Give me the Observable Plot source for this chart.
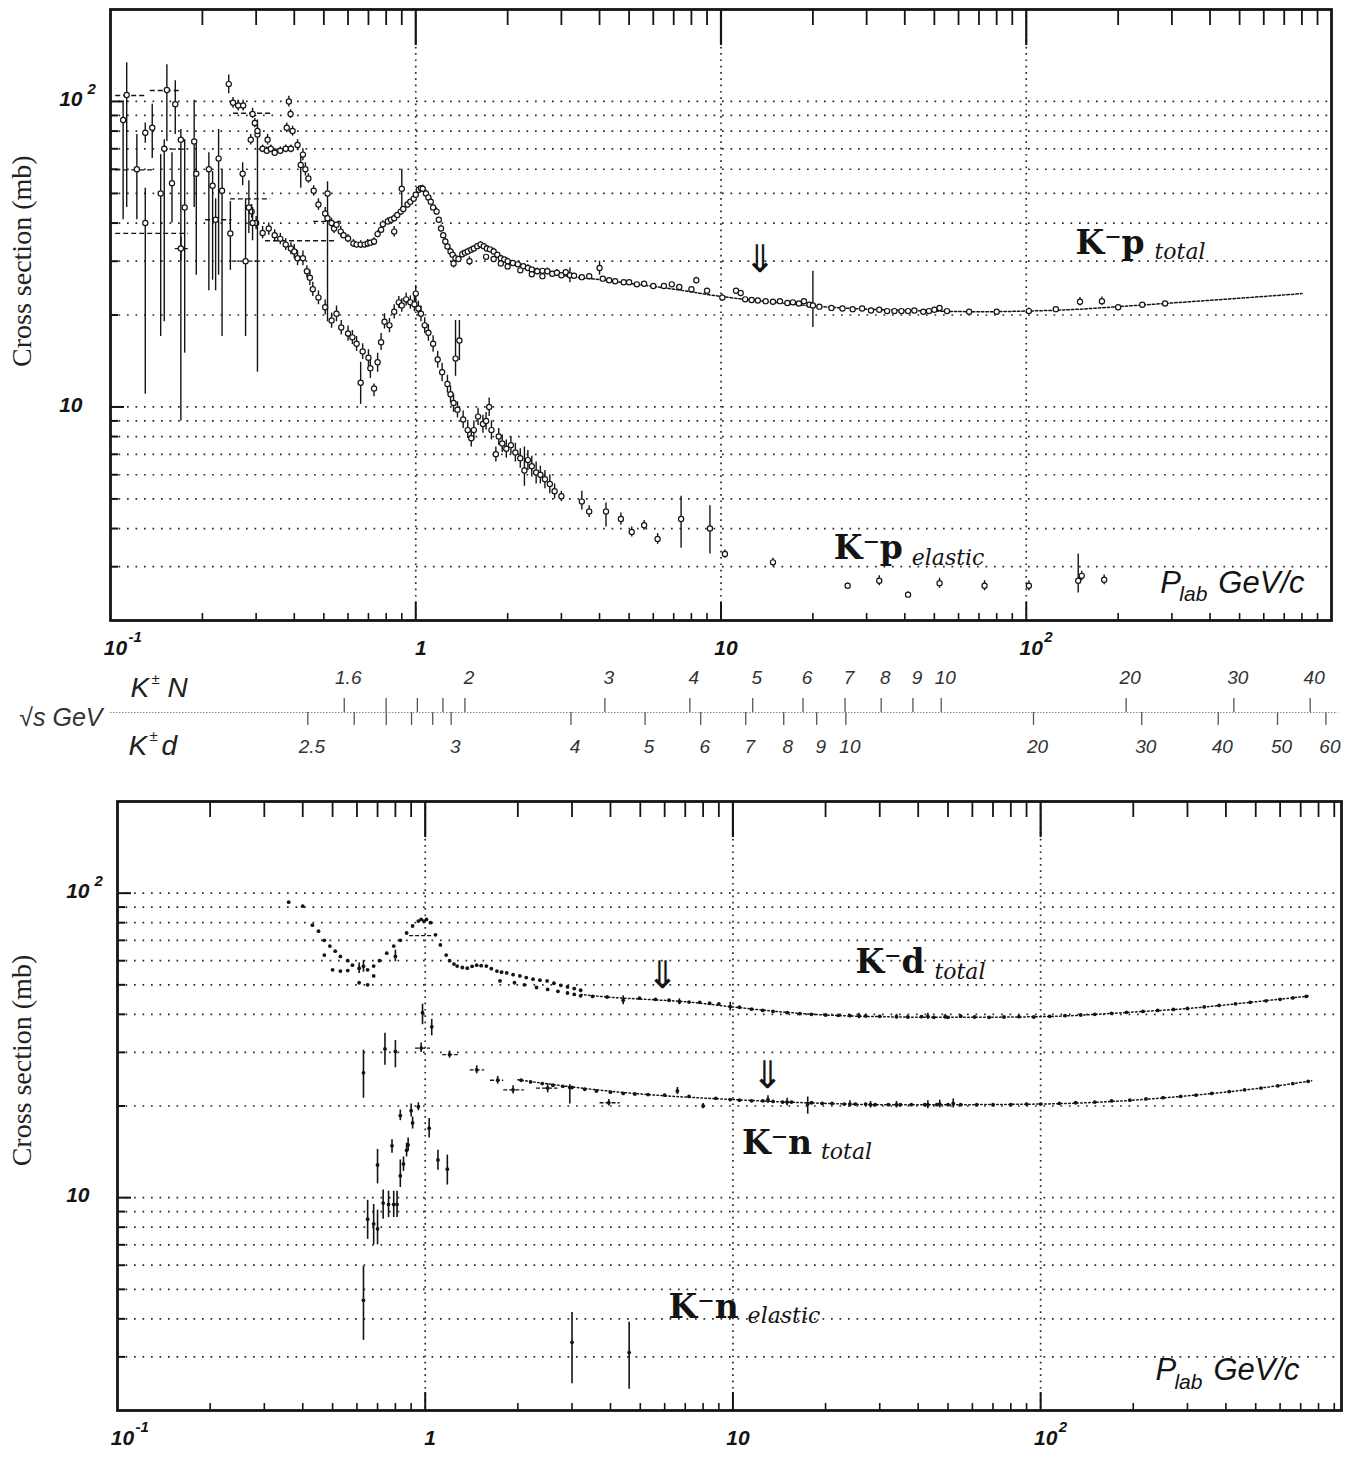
<!DOCTYPE html>
<html><head><meta charset="utf-8">
<script src="https://cdn.jsdelivr.net/npm/d3@7"></script>
<script src="https://cdn.jsdelivr.net/npm/@observablehq/plot@0.6"></script>
<style>
body{margin:0;background:#fff;}
#wrap{position:relative;width:1349px;height:1463px;overflow:hidden;background:#fff;}
#wrap > svg{position:absolute;left:0;overflow:visible;}
</style></head><body><div id="wrap"></div>
<script>
// ---------------- DATA ----------------
// K- p total: [plab GeV/c, sigma mb, lo, hi]
const kpTotal = [
[0.113,105,45,134],[0.110,87,41,99],[0.122,60,41,78],[0.130,79,73,85],[0.130,40,11,52],
[0.137,82,65,98],[0.146,50,17,67],[0.150,70,19,75],[0.153,109,74,132],[0.159,54,40,68],
[0.163,98,78,117],[0.170,75,9,81],[0.170,33,30,36],[0.175,45,15,75],[0.188,74,45,101],
[0.191,58,27,74],[0.210,60,24,68],[0.216,53,26,59],[0.221,41,24,48],[0.226,65,27,81],
[0.232,51,17,60],[0.247,37,28,47],[0.271,58,53,63],[0.277,30,17,48],[0.284,45,37,55],
[0.292,40,35,45],[0.303,78,13,87],
[0.244,114,106,122],[0.252,99,95,103],[0.262,97,93,101],[0.272,97,93,101],[0.292,91,88,95],
[0.297,85,82,88],[0.303,80,77,83],[0.288,75,72,78],[0.327,75,72,78],[0.315,70,68,72],
[0.325,69,67,71],[0.335,70,68,72],[0.345,68,66,70],[0.36,69,67,71],[0.375,70,68,72],
[0.39,70,68,72],[0.384,100,96,104],[0.389,91,88,94],[0.378,82,79,85],[0.395,80,77,83],
[0.41,72,69,75],[0.427,67,64,70],[0.435,60,57,63],[0.445,56,54,58],[0.463,51,49,53],
[0.48,46,44,48],[0.505,43,41,45],[0.514,41.5,40,43],[0.53,40,38.5,41.5],[0.54,38.4,37,40],
[0.55,39.5],[0.568,37.5,36,39],[0.58,36.5],[0.60,35.6,34.5,36.7],[0.625,34.3,33.3,35.3],
[0.64,34],[0.66,34,33,35],[0.68,34],[0.696,34.3,33.3,35.3],[0.71,34.5],[0.73,34.8,33.8,35.8],
[0.75,36.8,35.8,37.8],[0.77,38],[0.78,39.6,38.5,40.7],[0.81,40.5,39.4,41.6],[0.83,41],
[0.85,41.5,40.4,42.6],[0.87,42.5],[0.893,43.6,42.4,44.8],[0.91,44.5],[0.94,46,44.8,47.2],
[0.96,47],[0.984,48,46.8,49.2],[1.0,49.5],[1.023,51.4,50,52.8],[1.04,52],[1.054,51.8,50.4,53.2],
[1.08,50,48.7,51.3],[1.10,48.5],[1.12,47,45.8,48.2],[1.14,45],[1.17,43.6,42.4,44.8],[1.19,41],
[1.21,38.4,37.4,39.4],[1.23,36.5],[1.25,34.8,33.9,35.7],[1.27,33.5],[1.30,32.3,31.5,33.1],
[1.32,31.5],[1.35,30.7,29.9,31.5],[1.38,30.5],[1.42,31.6,30.8,32.4],[1.45,32],
[1.48,32.3,31.5,33.1],[1.52,32.7],[1.55,33,32.2,33.8],[1.59,33.6],[1.63,34,33.2,34.8],
[1.67,33.6],[1.71,33,32.2,33.8],[1.75,32.8],[1.80,32.3,31.5,33.1],[1.85,31.5],
[1.90,30.7,30,31.4],[1.95,30.4],[2.0,30,29.3,30.7],[2.08,29.6],[2.16,29.3,28.6,30],
[2.25,28.9],[2.33,28.5,27.8,29.2],[2.4,28.2],[2.5,27.8,27.1,28.5],[2.6,27.9],[2.7,27.8,27.1,28.5],
[1.7,31],[1.8,30.5],[1.9,29.5],[2.0,28.8],[2.2,28],[2.4,27.2],[2.6,26.8],
[0.90,51.8,44.6,60],[0.85,37.5,36,39],[1.5,30,29,31],[1.33,29.5,28.5,30.5],[0.514,50,19,54.6],
[0.42,62,52,66],[2.8,27.3],[2.9,27.5,26.8,28.2],[3.0,27.0],[3.1,27.6],[3.2,27,25.5,28.5],
[3.3,26.9],[3.5,26.6],[3.7,26.8],[4.0,28.5,27,30],[4.1,26.3],[4.3,26.0],[4.5,25.8],[4.8,25.6],
[5.0,25.6],[5.3,25.2],[5.6,25.3],[6.0,24.9],[6.5,24.9],[6.9,25.2],[7.3,24.7],[8.0,24.3],
[8.3,26.0,25.4,26.6],[9.0,24.0],[10.1,22.8,22.2,23.4],[11.2,24.0],[11.6,23.6],[12.0,22.5],
[12.6,22.4],[13.2,22.3],[14.0,22.2],[14.8,22.1],[15.6,22.2],[16.5,21.9],[17.2,22.0],[18.0,21.8],
[18.7,22.2],[19.5,21.6],[20.0,21.5,18.2,27.8],[21,21.3],[23,21.1],[25,21.0],[27,20.9],[29,21.0],
[31,20.7],[33,20.8],[35,20.6],[37,20.6],[39,20.6],[41,20.6],[43,20.7],[46,20.5],[48,20.6],
[50,20.8],[52,21.1],[55,20.6],[65,20.5],[80,20.5],[102,20.6,20.1,21.1],[125,20.9],
[150,22.1,21.4,22.8],[177,22.2,21.5,22.9],[200,21.2],[240,21.6],[285,21.8]
];
// dashed momentum-bin bars: [sigma, plab from, plab to]
const kpBins = [
[104.6,0.104,0.132],[108.6,0.135,0.172],[59.7,0.104,0.140],[69.8,0.149,0.176],[91.5,0.253,0.335],
[48,0.247,0.335],[69.8,0.306,0.395],[35,0.322,0.545],[41,0.205,0.25],[37,0.104,0.18],
[33,0.163,0.18],[30,0.25,0.31],[40.5,0.463,0.57]
];
const kpTotalFit = [[2.0,29.4],[2.5,28.2],[3,27.0],[4,26.1],[5,25.4],[7,24.3],[10,23.0],[15,22.0],
[20,21.4],[30,20.9],[50,20.6],[70,20.5],[100,20.6],[150,20.9],[200,21.3],[300,21.9],[500,22.7],[800,23.5]];
// K- p elastic
const kpElastic = [
[0.29,43.6,41.5,46],[0.30,40,38,42],[0.315,37.1,35.5,39],[0.33,38.4,36.5,40],[0.345,36.5,35,38],
[0.36,35.5,34,37],[0.375,34,32.5,35.5],[0.39,33,31.5,34.5],[0.40,32.3,30.5,34],[0.41,30.7,29,32.5],
[0.427,30.7,29,32.4],[0.44,27.8,26.5,29],[0.45,26.5,25,28],[0.46,24.3,23,25.6],[0.48,22.8,21.6,24],
[0.505,21.2,20,22.4],[0.53,19.2,18.1,20.3],[0.55,20.2,19,21.4],[0.57,18.2,17.2,19.2],
[0.60,17.4,16.4,18.4],[0.62,16.9,16,17.8],[0.64,16.1,15.2,17],[0.67,15.2,14.3,16.1],
[0.70,14.5,13.6,15.4],[0.66,12,10.2,14],[0.71,13.4,12.4,14.4],[0.73,11.5,10.8,11.9],
[0.75,14,13,15],[0.77,16.3,15.3,17.4],[0.79,19,18,20.2],[0.82,18.5,17.5,19.5],[0.85,20.5,19.4,21.6],
[0.88,22,21,23],[0.9,21.5,20.4,22.6],[0.93,22.5,21.4,23.6],[0.96,22,20.9,23.1],[0.99,21.7,20.5,23],
[1.0,23.5,22,25],[1.02,21,19.8,22.2],[1.04,20.2,19,21.4],[1.07,18.5,17.4,19.6],[1.10,17.5,16.4,18.6],
[1.14,16.1,15.1,17.1],[1.18,14.3,13.4,15.2],[1.22,13,12.1,13.9],[1.27,11.9,11.1,12.7],
[1.30,11,10.3,11.7],[1.33,10.3,9.6,11],[1.37,9.8,9.2,10.4],[1.35,14.4,12.6,19.2],[1.39,16.5,14.2,19.2],
[1.43,9.1,8.5,9.7],[1.48,8.4,7.9,8.9],[1.52,7.9,7.4,8.4],[1.55,8.4,7.8,9],[1.6,9.3,8.7,9.9],
[1.66,8.8,8.2,9.4],[1.7,9.0,8.4,9.6],[1.74,10.0,9.3,10.7],[1.77,8.4,7.8,9],[1.83,7.0,6.6,7.4],
[1.87,8.0,7.5,8.5],[1.92,7.6,7.1,8.1],[1.98,7.3,6.8,7.8],[2.05,7.5,7,8],[2.12,7.1,6.6,7.6],
[2.2,6.8,6.3,7.3],[2.27,6.2,5.5,7.4],[2.33,6.7,6.2,7.2],[2.4,6.4,5.9,6.9],[2.48,6.1,5.6,6.6],
[2.56,6.0,5.6,6.4],[2.65,5.8,5.4,6.2],[2.75,5.6,5.2,6.0],[2.85,5.3,5.0,5.6],[3.0,5.1,4.9,5.3],
[3.5,4.9,4.6,5.3],[3.7,4.55,4.35,4.75],[4.2,4.55,4.05,4.85],[4.7,4.3,4.1,4.5],[5.1,3.9,3.75,4.05],
[5.6,4.1,3.95,4.25],[6.2,3.7,3.55,3.85],[7.4,4.3,3.45,5.1],[9.2,4.0,3.3,4.75],[10.3,3.3,3.2,3.4],
[14.8,3.1,3.0,3.2],[26,2.6,2.55,2.65],[33,2.7,2.6,2.8],[41,2.43,2.38,2.48],[52,2.65,2.55,2.75],
[73,2.6,2.5,2.7],[102,2.6,2.5,2.7],[148,2.7,2.46,3.3],[152,2.8,2.7,2.9],[180,2.72,2.62,2.82]
];
// K- d total: [plab, sigma, lo, hi]
const kdTotal = [
[0.36,93.4],[0.40,90.6],[0.43,78.5],[0.45,75],[0.47,70],[0.49,67],[0.51,64.5],[0.53,62],[0.56,60],
[0.58,58],[0.61,56.7,54.5,59],[0.63,57.5,55,60],[0.65,56],[0.68,57.6],[0.71,60],[0.75,63.5],
[0.79,67],[0.83,70],[0.87,74],[0.91,78],[0.95,81],[0.97,82],[0.99,81],[1.01,82],[1.04,80],
[1.08,73],[1.12,67.6],[1.17,62.6],[1.2,60],[1.24,58.5],[1.27,57.6],[1.32,57],[1.37,56.7],
[1.42,57.5],[1.47,58],[1.52,57.8],[1.58,57.6],[1.64,56.5],[1.71,55.5],[1.77,55],[1.84,54.7],
[1.93,54],[2.03,53.5],[2.13,52.8],[2.24,52.2],[2.36,51.8],[2.49,51.5],[2.62,50.6],[2.76,49.8],
[2.9,49.2],[3.05,48.6],[3.2,48],
[0.47,62.6],[0.50,56],[0.53,55.5],[0.56,55.7],[0.61,50.8],[0.65,50],[0.68,53.5],[0.8,62,59.5,65],
[1.75,51.5],[1.95,50.8],[2.1,50],[2.3,49],[2.5,48.3],[2.7,47.6],[2.9,47],[3.05,46.5],
[3.2,46],[3.5,45.8],[3.9,45.6],[4.4,44.5,43,46],[4.97,45.2],[5.6,44.8],[6.2,44.5],[6.7,44,43,45],
[7.2,43.9],[7.8,43.8],[8.4,43.5],[9,43.3],[9.8,42.4,41,43.8],[10.5,42.2],[11.5,41.6],[12.5,41.2],
[13.5,40.9],[15,40.5],[16.5,40.2],[18,40],[20,39.8],[22,39.7],[24,39.6],[25.7,39.5,38.7,40.3],
[27,39.5],[30,39.4],[34,39.3,38.6,40],[37,39.2],[41,39.3],[43,39.4,38.5,40.3],[45,39.1],
[49,39.3,38.6,40],[50,39.1],[55,39.4,38.9,39.9],[61,39.2],[68,39.1],[76,39.2],[85,39.3],[95,39.2],
[107,39.4],[120,39.6],[135,39.8],[150,40.0],[170,40.3],[190,40.6],[215,40.9],[240,41.2],
[270,41.5],[300,41.8],[340,42.3],[380,42.8],[430,43.3],[480,43.8],[540,44.3],[600,44.8],
[660,45.3],[730,45.8]
];
const kdBins = [[72.5,0.89,1.05]];
const kdFit = [[3.2,46.5],[4,45.5],[5,44.9],[7,44.0],[10,42.3],[15,40.6],[20,39.8],[30,39.3],
[50,39.1],[100,39.3],[200,40.7],[300,41.8],[500,44.0],[750,46.0]];
// K- n total
const knTotal = [
[0.63,25.7,21.2,30.5],[0.74,30.8,27.2,34.7],[0.8,30.2,26.7,32.8],[0.98,40.5,37,43.2],
[1.05,36.4,34,38.5],[0.97,31,30,32.2],[1.2,29.5,28.7,30.3],[1.47,26.3,25.5,27.1],
[1.72,24.3,23.6,25],[1.93,22.6,21.9,23.3],[2.5,22.9,22.1,23.7],[2.95,23,20.3,23.5],
[3.95,20.5,20,21],
[2.05,24.3],[2.2,24.0],[2.4,23.7],[2.6,23.4],[2.8,23.2],[3.0,23.0],[3.3,22.7],[3.6,22.4],
[4.0,22.2],[4.4,22.0],[4.8,21.9],[5.3,21.8],[6.0,21.7],[6.6,22.4,21.8,23],[7.2,21.5],
[8.0,20.0,19.6,20.4],[8.8,21.2],[9.8,21.0],
[10.5,20.9],[11.5,20.8],[12.5,20.8],[13,21,20.4,21.6],[13.5,20.7],[14.5,20.6],[15,20.6,20,21.2],
[15.5,20.6],[17.5,20.3,18.8,21.4],[18,20.5],[19.5,20.4],[21,20.4],[23,20.3],[24,20.3,19.8,20.8],
[25,20.3],[27,20.3],[28,20.2,19.7,20.7],[29,20.2],[32,20.2],[34,20.2,19.7,20.7],[35,20.2],
[38,20.2],[42,20.2],[43,20.2,19.6,20.8],[46,20.2],[47,20.3,19.7,20.9],[50,20.2],
[52,20.4,19.7,21.1],[55,20.2],[62,20.2],[70,20.2],[80,20.2],[90,20.3],[100,20.3],[115,20.4],
[130,20.5],[150,20.6],[170,20.8],[195,20.9],[220,21.1],[250,21.3],[285,21.5],[320,21.7],
[360,22.0],[410,22.3],[460,22.6],[520,22.9],[590,23.3],[660,23.7],[740,24.1]
];
const knBins = [[31,0.93,1.04],[29.5,1.14,1.28],[26.3,1.4,1.56],[24.3,1.63,1.8],[22.6,1.8,2.1],
[22.9,2.3,2.7],[20.5,3.7,4.3]];
const knFit = [[2,24.4],[3,23.1],[5,21.9],[7,21.4],[10,21.0],[15,20.6],[20,20.4],[30,20.2],
[50,20.2],[100,20.3],[200,20.9],[300,21.6],[500,22.8],[760,24.2]];
// K- n elastic
const knElastic = [
[0.63,4.6,3.4,5.95],[0.65,8.5,7.3,9.8],[0.68,8.2,7.0,9.5],[0.70,12.8,11.1,14.4],[0.70,7.9,7.0,9.1],
[0.73,9.6,8.5,10.6],[0.76,9.5,8.6,10.5],[0.79,9.5,8.6,10.5],[0.81,9.5,8.6,10.5],[0.78,14.8,14.0,15.5],
[0.83,11.8,10.8,13.3],[0.85,12.9,12.2,13.6],[0.87,14.3,13.6,15.1],[0.88,14.9,14.2,15.7],
[0.83,18.6,17.9,19.4],[0.90,19.3,18.4,20.3],[0.91,17.6,16.8,18.4],[0.95,19.9,19.3,20.5],
[1.03,16.9,15.7,18.2],[1.10,13.3,12.3,14.3],[1.18,12.4,11.0,13.8],[3.0,3.35,2.45,4.2],[4.6,3.1,2.35,3.9]
];
// axis tick values
const xDecades = [0.1, 1, 10, 100];
const xMajor = [1, 10, 100];
const yGrid = [3,4,5,6,7,8,9,10,20,30,40,50,60,70,80,90,100];
const yMajor = [10, 100];
const xTickLabels = [{v:0.1, base:"10", exp:"-1"}, {v:1, base:"1", exp:""}, {v:10, base:"10", exp:""}, {v:100, base:"10", exp:"2"}];
const yTickLabels = [{v:100, base:"10", exp:"2"}, {v:10, base:"10", exp:""}];
// sqrt(s) scale (GeV)
const rootsKN_ticks = [1.6,1.7,1.8,1.9,2,3,4,5,6,7,8,9,10,20,30,40];
const rootsKN_labels = [1.6,2,3,4,5,6,7,8,9,10,20,30,40];
const rootsKd_ticks = [2.5,2.6,2.7,2.8,2.9,3,4,5,6,7,8,9,10,20,30,40,50,60];
const rootsKd_labels = [2.5,3,4,5,6,7,8,9,10,20,30,40,50,60];
const mK = 0.4937, mN = 0.9389, mD = 1.8756;

// --------------- helpers ---------------
const xMinor = [];
for (const d of xDecades) for (let k = 2; k <= 9; k++) xMinor.push(+(d * k).toPrecision(3));
function plab(rs, mT) { const s = rs * rs; const E = (s - mK*mK - mT*mT) / (2*mT); return Math.sqrt(E*E - mK*mK); }
const INK = "#141414";
const SANS = "Liberation Sans, Arial, sans-serif";
const SERIF = "DejaVu Serif, serif";
const TIMES = "Liberation Serif, Times New Roman, serif";
const P = d => d[0], S = d => d[1], LO = d => d[2], HI = d => d[3];
const hasErr = arr => arr.filter(d => d.length > 2);

function frameMarks(innerW, innerH, xmax) {
  return [
    Plot.ruleY(yGrid, {stroke: "#2a2a2a", strokeWidth: 1.7, strokeDasharray: "1.7,6.8"}),
    Plot.ruleX(xMajor, {stroke: "#2a2a2a", strokeWidth: 1.7, strokeDasharray: "1.7,4.6"}),
    Plot.ruleY(yGrid.filter(v => !yMajor.includes(v)), {stroke: INK, strokeWidth: 2, insetRight: innerW - 8}),
    Plot.ruleY(yMajor, {stroke: INK, strokeWidth: 2, insetRight: innerW - 14}),
    Plot.ruleX(xMinor.filter(v => v < xmax), {stroke: INK, strokeWidth: 1.8, insetBottom: innerH - 16}),
    Plot.ruleX(xMajor, {stroke: INK, strokeWidth: 2.2, insetBottom: innerH - 36}),
    Plot.ruleX(xMinor.filter(v => v < xmax), {stroke: INK, strokeWidth: 1.6, insetTop: innerH - 7}),
    Plot.ruleX(xMajor, {stroke: INK, strokeWidth: 2, insetTop: innerH - 18}),
    Plot.frame({stroke: INK, strokeWidth: 2.8}),
    // tick labels
    Plot.text(xTickLabels, {x: "v", text: "base", frameAnchor: "bottom", dy: 34, dx: 5, fontFamily: SANS, fontWeight: "bold", fontStyle: "italic", fontSize: 21, fill: INK}),
    Plot.text(xTickLabels, {x: "v", text: "exp", frameAnchor: "bottom", dy: 21, dx: 18, textAnchor: "start", fontFamily: SANS, fontWeight: "bold", fontStyle: "italic", fontSize: 15, fill: INK}),
    Plot.text(yTickLabels, {y: "v", text: "base", frameAnchor: "left", dx: -28, dy: -2, textAnchor: "end", fontFamily: SANS, fontWeight: "bold", fontStyle: "italic", fontSize: 21, fill: INK}),
    Plot.text(yTickLabels, {y: "v", text: "exp", frameAnchor: "left", dx: -23, dy: -12, textAnchor: "start", fontFamily: SANS, fontWeight: "bold", fontStyle: "italic", fontSize: 15, fill: INK})
  ];
}
function yTitle(yv, dx) {
  return Plot.text(["Cross section (mb)"], {x: 0.1, y: yv, dx, rotate: -90, textAnchor: "middle", fontFamily: TIMES, fontSize: 28, fill: "#222"});
}
function note(x, y, main, sub, subDx) {
  return [
    Plot.text([main], {x, y, textAnchor: "start", fontFamily: SERIF, fontWeight: "bold", fontSize: 33, fill: INK}),
    Plot.text([sub], {x, y, dx: subDx, dy: 9, textAnchor: "start", fontFamily: SERIF, fontStyle: "italic", fontSize: 22, fill: INK})
  ];
}
function plabLabel(x, y) {
  return [
    Plot.text(["P"], {x, y, textAnchor: "start", fontFamily: SANS, fontStyle: "italic", fontSize: 31, fill: INK}),
    Plot.text(["lab"], {x, y, dx: 19, dy: 12, textAnchor: "start", fontFamily: SANS, fontStyle: "italic", fontSize: 21, fill: INK}),
    Plot.text(["GeV/c"], {x, y, dx: 58, textAnchor: "start", fontFamily: SANS, fontStyle: "italic", fontSize: 31, fill: INK})
  ];
}
function arrow(x, y) {
  return Plot.text(["\u21D3"], {x, y, fontFamily: "DejaVu Sans, sans-serif", fontSize: 38, fill: INK});
}
function openData(arr) {
  return [
    Plot.ruleX(hasErr(arr), {x: P, y1: LO, y2: HI, stroke: INK, strokeWidth: 1.4}),
    Plot.dot(arr, {x: P, y: S, r: 2.6, fill: "white", stroke: INK, strokeWidth: 1.2})
  ];
}
function filledData(arr) {
  return [
    Plot.ruleX(hasErr(arr), {x: P, y1: LO, y2: HI, stroke: INK, strokeWidth: 1.6}),
    Plot.dot(arr, {x: P, y: S, r: 1.9, fill: INK, stroke: "none"})
  ];
}
function bins(arr, dash) {
  return Plot.ruleY(arr, {y: d => d[0], x1: d => d[1], x2: d => d[2], stroke: INK, strokeWidth: 1.3, strokeDasharray: dash});
}
function fit(arr, dash) {
  return Plot.line(arr, {x: P, y: S, stroke: INK, strokeWidth: 1.5, strokeDasharray: dash, curve: "monotone-x"});
}

const wrap = document.getElementById("wrap");
const W = 1349;

// ---------------- TOP PANEL ----------------
const topH = 668;
const topPlot = Plot.plot({
  width: W, height: topH,
  marginLeft: 110, marginRight: 18, marginTop: 9, marginBottom: topH - 620,
  x: {type: "log", domain: [0.1, 1000], axis: null},
  y: {type: "log", domain: [2, 200], axis: null},
  style: {background: "transparent", overflow: "visible"},
  marks: [
    ...frameMarks(1221, 611, 1000),
    yTitle(30, -88),
    bins(kpBins, "5,3"),
    fit(kpTotalFit, "2.5,2"),
    ...openData(kpElastic),
    ...openData(kpTotal),
    ...note(145, 34.3, "K\u207Bp", "total", 79),
    ...note(23.4, 3.44, "K\u207Bp", "elastic", 78),
    ...plabLabel(275, 2.66),
    arrow(13.4, 30.2)
  ]
});
topPlot.style.top = "0px";
wrap.appendChild(topPlot);

// ---------------- MIDDLE sqrt(s) SCALE ----------------
const midPlot = Plot.plot({
  width: W, height: 100,
  marginLeft: 110, marginRight: 18, marginTop: 0, marginBottom: 0,
  x: {type: "log", domain: [0.1, 1000], axis: null},
  y: {domain: [-1, 1], axis: null},
  style: {background: "transparent", overflow: "visible"},
  marks: [
    Plot.ruleY([0], {x1: 0.1, x2: 1050, stroke: "#8a8a8a", strokeWidth: 1.2, strokeDasharray: "1.5,1.5"}),
    Plot.ruleX(rootsKN_ticks, {x: d => plab(d, mN), y1: 0, y2: 0.28, stroke: "#555", strokeWidth: 1.3}),
    Plot.ruleX(rootsKd_ticks, {x: d => plab(d, mD), y1: 0, y2: -0.26, stroke: "#555", strokeWidth: 1.3}),
    Plot.text(rootsKN_labels, {x: d => plab(d, mN), y: 0, dy: -35, dx: 4, text: d => String(d), fontFamily: SANS, fontStyle: "italic", fontSize: 19, fill: "#333"}),
    Plot.text(rootsKd_labels, {x: d => plab(d, mD), y: 0, dy: 34, dx: 4, text: d => String(d), fontFamily: SANS, fontStyle: "italic", fontSize: 19, fill: "#333"}),
    Plot.text(["\u221As GeV"], {x: 0.1, y: 0, dx: -8, dy: 5, textAnchor: "end", fontFamily: SANS, fontStyle: "italic", fontSize: 25, fill: "#333"}),
    Plot.text(["K"], {x: 0.1, y: 0, dx: 20, dy: -24, textAnchor: "start", fontFamily: SANS, fontStyle: "italic", fontSize: 28, fill: "#222"}),
    Plot.text(["\u00B1"], {x: 0.1, y: 0, dx: 41, dy: -33, textAnchor: "start", fontFamily: SANS, fontSize: 15, fill: "#222"}),
    Plot.text(["N"], {x: 0.1, y: 0, dx: 57, dy: -24, textAnchor: "start", fontFamily: SANS, fontStyle: "italic", fontSize: 28, fill: "#222"}),
    Plot.text(["K"], {x: 0.1, y: 0, dx: 18, dy: 34, textAnchor: "start", fontFamily: SANS, fontStyle: "italic", fontSize: 28, fill: "#222"}),
    Plot.text(["\u00B1"], {x: 0.1, y: 0, dx: 39, dy: 24, textAnchor: "start", fontFamily: SANS, fontSize: 15, fill: "#222"}),
    Plot.text(["d"], {x: 0.1, y: 0, dx: 51, dy: 34, textAnchor: "start", fontFamily: SANS, fontStyle: "italic", fontSize: 28, fill: "#222"})
  ]
});
midPlot.style.top = "662px";
wrap.appendChild(midPlot);

// ---------------- BOTTOM PANEL ----------------
const botTop = 770, botH = 1463 - 770;
const botPlot = Plot.plot({
  width: W, height: botH,
  marginLeft: 117, marginRight: 8, marginTop: 801 - botTop, marginBottom: 1463 - 1410,
  x: {type: "log", domain: [0.1, 950], axis: null},
  y: {type: "log", domain: [2, 200], axis: null},
  style: {background: "transparent", overflow: "visible"},
  marks: [
    ...frameMarks(1224, 609, 950),
    yTitle(28.2, -95),
    bins(kdBins, "4,2"),
    bins(knBins, "4,2"),
    fit(kdFit, "1.5,2.5"),
    fit(knFit, "1.5,2.5"),
    ...filledData(kdTotal),
    ...filledData(knTotal),
    ...filledData(knElastic),
    ...note(25, 59.2, "K\u207Bd", "total", 79),
    ...note(10.7, 15.1, "K\u207Bn", "total", 79),
    ...note(6.18, 4.36, "K\u207Bn", "elastic", 79),
    ...plabLabel(236, 2.71),
    arrow(5.9, 53.7),
    arrow(12.95, 25.2)
  ]
});
botPlot.style.top = botTop + "px";
wrap.appendChild(botPlot);
</script>
</body></html>
